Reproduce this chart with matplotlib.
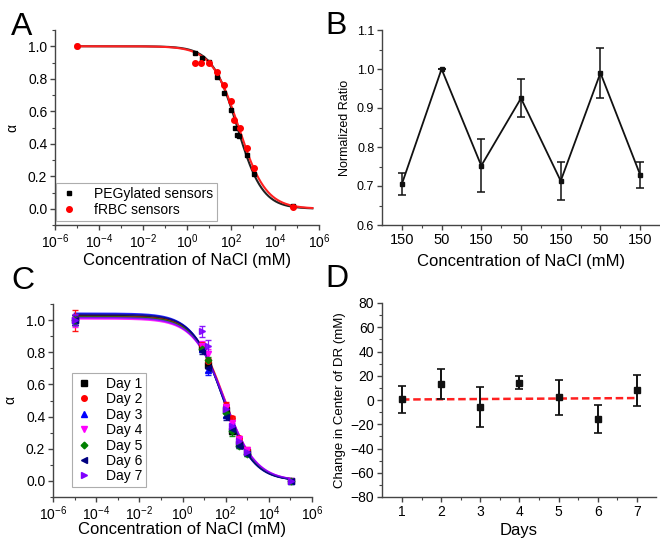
import numpy as np
import matplotlib
matplotlib.use("Agg")
import matplotlib.pyplot as plt
from matplotlib.ticker import FixedLocator, MultipleLocator, NullFormatter, FuncFormatter

plt.rcParams['font.family'] = ['Liberation Sans', 'DejaVu Sans']
plt.rcParams['mathtext.fontset'] = 'custom'
plt.rcParams['mathtext.rm'] = 'Liberation Sans'
plt.rcParams['mathtext.it'] = 'Liberation Sans:italic'

# ---------------- Panel A data ----------------
peg_conc = [1e-5, 2.3, 4.8, 10, 23, 48, 96, 148, 195, 240, 530, 1070, 6.8e4]
peg_alpha = [1.0, 0.96, 0.93, 0.906, 0.81, 0.71, 0.61, 0.495, 0.455, 0.45, 0.33, 0.215, 0.016]
rbc_conc = [1e-5, 2.3, 4.4, 10, 22, 49, 100, 142, 262, 525, 1070, 6.8e4]
rbc_alpha = [1.0, 0.896, 0.90, 0.90, 0.84, 0.764, 0.664, 0.546, 0.50, 0.373, 0.25, 0.012]
# fitted dose-response parameters (top, x0, n)
peg_fit = (1.0, 195.0, 0.76)
rbc_fit = (1.0, 225.0, 0.705)
fit_range_A = (1e-5, 5e5)

# ---------------- Panel B data ----------------
b_labels = ['150', '50', '150', '50', '150', '50', '150']
b_ratio = [0.705, 1.0, 0.752, 0.925, 0.713, 0.99, 0.729]
b_err = [0.028, 0.0, 0.068, 0.049, 0.048, 0.065, 0.033]

# ---------------- Panel C data ----------------
c_conc = [1e-5, 7.6, 15.5, 102, 205, 430, 940, 1.05e5]
c_days = ['Day 1', 'Day 2', 'Day 3', 'Day 4', 'Day 5', 'Day 6', 'Day 7']
c_vals = [
    [1.0, 0.83, 0.72, 0.44, 0.31, 0.23, 0.18, 0.0],
    [1.0, 0.845, 0.745, 0.47, 0.39, 0.265, 0.195, 0.0],
    [1.0, 0.82, 0.69, 0.41, 0.33, 0.23, 0.18, 0.0],
    [1.0, 0.84, 0.79, 0.46, 0.36, 0.26, 0.19, 0.0],
    [1.0, 0.82, 0.75, 0.42, 0.31, 0.22, 0.17, 0.0],
    [1.0, 0.81, 0.70, 0.40, 0.32, 0.22, 0.17, 0.0],
    [1.0, 0.93, 0.84, 0.45, 0.34, 0.25, 0.18, 0.0],
]
c_errs = [
    [0.03, 0.02, 0.02, 0.02, 0.02, 0.015, 0.015, 0.005],
    [0.065, 0.02, 0.02, 0.02, 0.015, 0.015, 0.015, 0.005],
    [0.03, 0.02, 0.03, 0.02, 0.02, 0.015, 0.015, 0.005],
    [0.04, 0.03, 0.03, 0.02, 0.02, 0.015, 0.015, 0.005],
    [0.03, 0.02, 0.02, 0.02, 0.03, 0.015, 0.015, 0.005],
    [0.03, 0.02, 0.02, 0.02, 0.02, 0.015, 0.015, 0.005],
    [0.03, 0.035, 0.035, 0.02, 0.02, 0.015, 0.015, 0.005],
]
# fitted parameters per day (top, x0, n)
c_fits = [
    (1.028, 80, 0.62),
    (1.022, 88, 0.62),
    (1.042, 72, 0.62),
    (1.008, 90, 0.60),
    (1.020, 80, 0.62),
    (1.035, 74, 0.63),
    (1.015, 86, 0.60),
]
fit_range_C = (1e-5, 1e5)

# ---------------- Panel D data ----------------
d_days = [1, 2, 3, 4, 5, 6, 7]
d_change = [0.6, 13.2, -5.8, 14.3, 2.2, -16.0, 8.0]
d_err = [11.0, 12.0, 16.4, 5.4, 14.7, 11.5, 12.8]
d_fit_days = [1, 7]
d_fit_vals = [0.4, 1.6]

c_colors = ['black', '#ff0000', '#0000ff', '#ff00ff', '#008000', '#000080', '#8000ff']
c_markers = ['s', 'o', '^', 'v', 'D', '<', '>']

W, H = 660, 542
fig = plt.figure(figsize=(W / 100, H / 100), dpi=100)


def px_axes(l, t, r, b):
    return fig.add_axes([l / W, 1 - b / H, (r - l) / W, (b - t) / H])


def style(ax):
    for s in ['top', 'right']:
        ax.spines[s].set_visible(False)
    for s in ['left', 'bottom']:
        ax.spines[s].set_color('#444444')
        ax.spines[s].set_linewidth(1.0)
    ax.tick_params(which='major', direction='out', length=3.5, width=1, colors='#444444',
                   labelcolor='black', labelsize=10, pad=2)
    ax.tick_params(which='minor', direction='out', length=2, width=0.8, colors='#444444')


def log_fmt(v, pos):
    e = int(round(np.log10(v)))
    return r'$\mathdefault{10^{%d}}$' % e


def hill(x, p):
    top, x0, n = p
    return top / (1 + (x / x0) ** n)


def setup_log(ax):
    ax.set_xscale('log')
    ax.set_xlim(1e-6, 1e6)
    ax.xaxis.set_major_locator(FixedLocator([10.0 ** k for k in range(-6, 7, 2)]))
    ax.xaxis.set_minor_locator(FixedLocator([10.0 ** k for k in range(-5, 6, 2)]))
    ax.xaxis.set_major_formatter(FuncFormatter(log_fmt))
    ax.xaxis.set_minor_formatter(NullFormatter())
    ax.set_ylim(-0.1, 1.1)
    ax.yaxis.set_major_locator(FixedLocator([0, 0.2, 0.4, 0.6, 0.8, 1.0]))
    ax.yaxis.set_minor_locator(MultipleLocator(0.1))
    ax.yaxis.set_major_formatter(FuncFormatter(lambda v, p: '%.1f' % v))
    ax.set_xlabel('Concentration of NaCl (mM)', fontsize=12, labelpad=1)
    ax.set_ylabel('α', fontsize=10, labelpad=6)


# ---------------- Panel A ----------------
axA = px_axes(55, 30, 319, 225)
style(axA)
setup_log(axA)
xs = np.logspace(np.log10(fit_range_A[0]), np.log10(fit_range_A[1]), 400)
axA.plot(xs, hill(xs, peg_fit), color='#222222', lw=1.5, zorder=2)
axA.plot(xs, hill(xs, rbc_fit), color='#ff2020', lw=1.5, zorder=2)
axA.plot(peg_conc, peg_alpha, 's', color='black', ms=3.5, ls='none', zorder=3, label='PEGylated sensors')
axA.plot(rbc_conc, rbc_alpha, 'o', color='#ff0000', ms=4, ls='none', zorder=3, label='fRBC sensors')
legA = axA.legend(loc='lower left', bbox_to_anchor=(0.005, 0.02), fontsize=10, frameon=True,
                  fancybox=False, edgecolor='#999999', handlelength=1.2, handletextpad=1.2,
                  borderpad=0.3, labelspacing=0.15, borderaxespad=0)
legA.get_frame().set_linewidth(0.8)

# ---------------- Panel B ----------------
axB = px_axes(382, 30, 660, 225)
style(axB)
bx = np.arange(1, len(b_ratio) + 1)
axB.errorbar(bx, b_ratio, yerr=b_err, color='#111111', marker='s', ms=3.5, lw=1.3,
             capsize=3, elinewidth=1.1, capthick=1.1)
axB.set_xlim(0.5, 7.5)
axB.set_xticks(bx)
axB.set_xticklabels(b_labels)
axB.xaxis.set_minor_locator(FixedLocator(bx[:-1] + 0.5))
axB.set_ylim(0.6, 1.1)
axB.yaxis.set_major_locator(MultipleLocator(0.1))
axB.yaxis.set_minor_locator(MultipleLocator(0.05))
axB.yaxis.set_major_formatter(FuncFormatter(lambda v, p: '%.1f' % v))
axB.tick_params(axis='y', labelsize=9)
axB.tick_params(axis='x', labelsize=10.5)
axB.set_xlabel('Concentration of NaCl (mM)', fontsize=12, labelpad=5)
axB.set_ylabel('Normalized Ratio', fontsize=9, labelpad=4)

# ---------------- Panel C ----------------
axC = px_axes(53, 304, 312, 497)
style(axC)
setup_log(axC)
axC.xaxis.labelpad = -1
xs = np.logspace(np.log10(fit_range_C[0]), np.log10(fit_range_C[1]), 400)
for i in range(len(c_days)):
    axC.plot(xs, hill(xs, c_fits[i]), color=c_colors[i], lw=1.2, zorder=2, alpha=0.85)
for i in range(len(c_days)):
    axC.errorbar(c_conc, c_vals[i], yerr=c_errs[i], color=c_colors[i], marker=c_markers[i],
                 ms=4 if c_markers[i] != 'D' else 3.4, ls='none', capsize=2, elinewidth=0.9,
                 ecolor=c_colors[i], alpha=0.9, zorder=3, label=c_days[i])
hs = [plt.Line2D([], [], marker=c_markers[i], color=c_colors[i], ls='none',
                 ms=4 if c_markers[i] != 'D' else 3.4) for i in range(len(c_days))]
legC = axC.legend(hs, c_days, loc='upper left', bbox_to_anchor=(0.075, 0.64), fontsize=10,
                  frameon=True, fancybox=False, edgecolor='#999999', handlelength=1.2,
                  handletextpad=1.0, borderpad=0.25, labelspacing=0.1, borderaxespad=0)
legC.get_frame().set_linewidth(0.8)

# ---------------- Panel D ----------------
axD = px_axes(382, 303, 656, 497)
style(axD)
axD.plot(d_fit_days, d_fit_vals, color='#ff2020', ls=(0, (3, 1.5)), lw=1.8, zorder=2)
axD.errorbar(d_days, d_change, yerr=d_err, color='#111111', marker='s', ms=5, ls='none',
             capsize=3, elinewidth=1.4, capthick=1.2, zorder=3)
axD.set_xlim(0.49, 7.49)
axD.set_xticks(d_days)
axD.xaxis.set_minor_locator(FixedLocator(np.array(d_days[:-1]) + 0.5))
axD.set_ylim(-80, 80)
axD.yaxis.set_major_locator(MultipleLocator(20))
axD.yaxis.set_minor_locator(MultipleLocator(10))
axD.tick_params(axis='both', labelsize=10)
axD.set_xlabel('Days', fontsize=12, labelpad=3)
axD.set_ylabel('Change in Center of DR (mM)', fontsize=9.5, labelpad=3)

# ---------------- Panel letters ----------------
for letter, xp, yp in [('A', 11, 35), ('B', 325, 34), ('C', 11, 289), ('D', 325, 287)]:
    fig.text(xp / W, 1 - yp / H, letter, fontsize=23, va='baseline', ha='left')

fig.savefig('out.png', dpi=100)
